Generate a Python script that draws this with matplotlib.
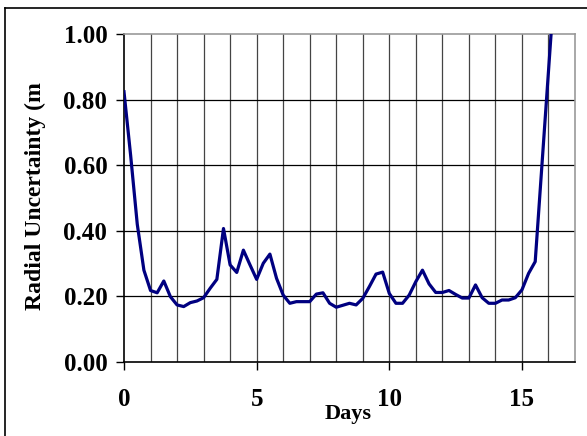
import matplotlib
matplotlib.use('Agg')
import matplotlib.pyplot as plt
from matplotlib.lines import Line2D
import numpy as np

# samples every 6 hours (0.25 day)
days = np.arange(0, 16.26, 0.25)
radial = [0.824, 0.63, 0.42, 0.28, 0.218, 0.211, 0.247, 0.199,
          0.174, 0.169, 0.181, 0.186, 0.196, 0.225, 0.252, 0.407,
          0.296, 0.273, 0.341, 0.296, 0.252, 0.301, 0.329, 0.255,
          0.204, 0.179, 0.184, 0.184, 0.184, 0.207, 0.211, 0.179,
          0.167, 0.173, 0.179, 0.174, 0.194, 0.230, 0.268, 0.274,
          0.209, 0.179, 0.179, 0.204, 0.245, 0.280, 0.238, 0.212,
          0.212, 0.218, 0.206, 0.195, 0.195, 0.235, 0.196, 0.179,
          0.179, 0.189, 0.189, 0.196, 0.220, 0.270, 0.306, 0.596,
          0.886, 1.176]
yticks = [0.0, 0.2, 0.4, 0.6, 0.8, 1.0]
xticks = [0, 5, 10, 15]

plt.rcParams['font.family'] = ['Liberation Serif', 'DejaVu Serif']
plt.rcParams['font.weight'] = 'bold'

fig = plt.figure(figsize=(5.87, 4.36), dpi=100)
ax = fig.add_axes([124/587, 74/436, 451/587, 328/436])

for d in range(1, 17):
    ax.axvline(d, color='#444444', lw=0.9, zorder=1)
for v in yticks[1:-1]:
    ax.axhline(v, color='black', lw=0.9, zorder=1)

ax.plot(days, radial, color='#000080', lw=2.3, zorder=3, clip_on=True)

ax.set_xlim(0, 17)
ax.set_ylim(0, 1.0)
ax.set_xticks(xticks)
ax.set_yticks(yticks)
ax.set_yticklabels([f'{v:.2f}' for v in yticks])
ax.tick_params(axis='both', direction='out', length=6, width=1, labelsize=18)
ax.tick_params(axis='x', pad=12.5)
ax.tick_params(axis='y', pad=6)
for lab in ax.get_xticklabels() + ax.get_yticklabels():
    lab.set_fontweight('bold')

ax.spines['left'].set_color('black')
ax.spines['bottom'].set_color('black')
ax.spines['top'].set_color('#999999')
ax.spines['right'].set_color('#999999')
for s in ax.spines.values():
    s.set_linewidth(1.2)

fig.text(35/587, 1 - 196/436, 'Radial Uncertainty (m', rotation=90,
         ha='center', va='center', fontsize=17, fontweight='bold')
fig.text(348/587, 1 - 414/436, 'Days', ha='center', va='center',
         fontsize=16, fontweight='bold')

# outer chart frame (left and top edges visible)
fig.add_artist(Line2D([5/587, 5/587], [0, 1 - 8/436], color='black', lw=1.2,
                      transform=fig.transFigure))
fig.add_artist(Line2D([5/587, 1], [1 - 8/436, 1 - 8/436], color='black', lw=1.2,
                      transform=fig.transFigure))

fig.savefig('out.png', dpi=100)
